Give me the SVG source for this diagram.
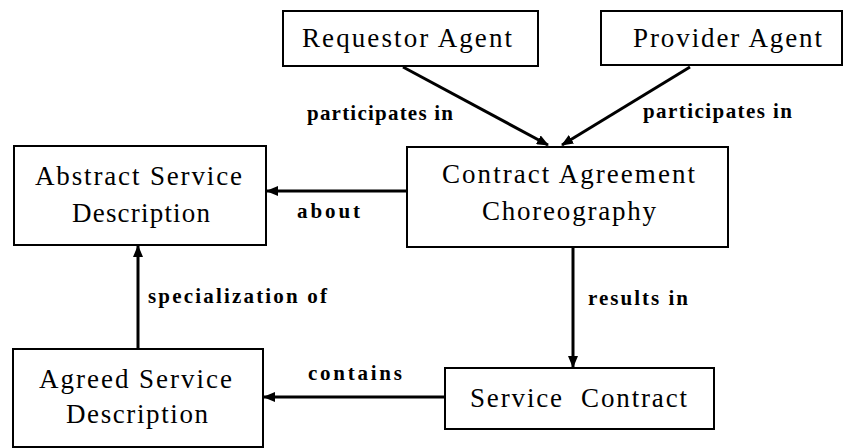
<svg xmlns="http://www.w3.org/2000/svg" width="847" height="448" viewBox="0 0 847 448">
<style>
.box{fill:#fff;stroke:#000;stroke-width:2}
.t{font-family:'Liberation Serif','DejaVu Serif',serif;font-size:27px;fill:#000}
.l{font-family:'Liberation Serif','DejaVu Serif',serif;font-size:21px;font-weight:bold;fill:#000}
.c{stroke:#000;stroke-width:3;fill:none}
</style>
<defs>
<marker id="ah" viewBox="0 0 12 10" refX="11" refY="5" markerWidth="12" markerHeight="10" markerUnits="userSpaceOnUse" orient="auto">
<path d="M0,0 L12,5 L0,10 Z" fill="#000"/>
</marker>
</defs>
<rect width="847" height="448" fill="#fff"/>
<g id="connectors">
<line class="c" x1="403" y1="67" x2="548" y2="145" marker-end="url(#ah)"/>
<line class="c" x1="690" y1="67" x2="562" y2="145" marker-end="url(#ah)"/>
<line class="c" x1="407" y1="191" x2="267" y2="191" marker-end="url(#ah)"/>
<line class="c" x1="573" y1="247" x2="573" y2="367" marker-end="url(#ah)"/>
<line class="c" x1="138" y1="348" x2="138" y2="246" marker-end="url(#ah)"/>
<line class="c" x1="445" y1="397" x2="264" y2="397" marker-end="url(#ah)"/>
<text class="l" x="307" y="120" textLength="146">participates in</text>
<text class="l" x="643" y="118" textLength="149">participates in</text>
<text class="l" x="297" y="218" textLength="63">about</text>
<text class="l" x="588" y="305" textLength="100">results in</text>
<text class="l" x="148" y="303" textLength="179">specialization of</text>
<text class="l" x="308" y="380" textLength="94">contains</text>
</g>
<g id="requestor">
<rect class="box" x="283" y="11" width="255" height="55"/>
<text class="t" x="302" y="47" textLength="210">Requestor Agent</text>
</g>
<g id="provider">
<rect class="box" x="601" y="11" width="241" height="54"/>
<text class="t" x="633" y="47" textLength="189">Provider Agent</text>
</g>
<g id="choreography">
<rect class="box" x="407" y="147" width="321" height="100"/>
<text class="t" x="442" y="183" textLength="253">Contract Agreement</text>
<text class="t" x="482" y="220" textLength="174">Choreography</text>
</g>
<g id="abstract">
<rect class="box" x="14" y="146" width="252" height="99"/>
<text class="t" x="35" y="185" textLength="207">Abstract Service</text>
<text class="t" x="72" y="222" textLength="138">Description</text>
</g>
<g id="agreed">
<rect class="box" x="13" y="349" width="250" height="98"/>
<text class="t" x="39" y="388" textLength="193">Agreed Service</text>
<text class="t" x="66" y="423" textLength="142">Description</text>
</g>
<g id="contract">
<rect class="box" x="445" y="368" width="269" height="61"/>
<text class="t" x="470" y="407" textLength="217" xml:space="preserve">Service  Contract</text>
</g>
</svg>
